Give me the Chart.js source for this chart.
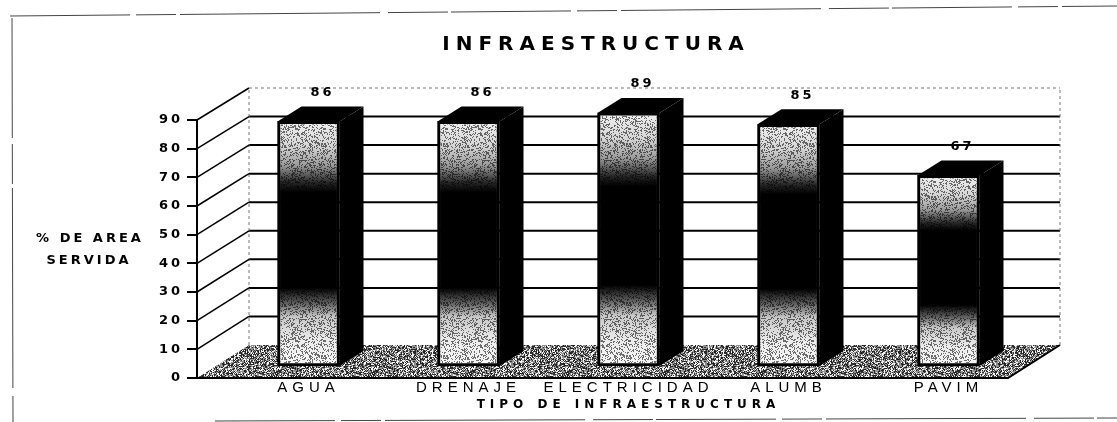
<!DOCTYPE html>
<html><head><meta charset="utf-8">
<script src="https://cdn.jsdelivr.net/npm/chart.js@4.4.1/dist/chart.umd.min.js"></script>
<style>html,body{margin:0;padding:0;background:#fff}#wrap{width:1117px;height:422px;position:relative}canvas{display:block}</style>
</head><body><div id="wrap"><canvas id="c" width="1117" height="422"></canvas></div>
<script>
// ---- data ----
const categories = ['AGUA', 'DRENAJE', 'ELECTRICIDAD', 'ALUMB', 'PAVIM'];
const values = [86, 86, 89, 85, 67];
const valueLabels = ['86', '86', '89', '85', '67'];
const yTicks = [0, 10, 20, 30, 40, 50, 60, 70, 80, 90];
const chartTitle = 'INFRAESTRUCTURA';
const xTitle = 'TIPO DE INFRAESTRUCTURA';
const yTitleLines = ['% DE AREA', 'SERVIDA'];

// ---- style ----
const FONT = '"Liberation Sans", Arial, sans-serif';
const BOLD = '"DejaVu Sans", "Liberation Sans", sans-serif';
const WALL_DX = 52;      // depth of the floor / side wall
const SIDE_DX = 24, SIDE_DY = 15; // bar depth

function hash(i, j, k) {
  const s = Math.sin(i * 127.1 + j * 311.7 + k * 74.7) * 43758.5453;
  return s - Math.floor(s);
}
function makePattern(ctx, w, h, fn) {
  const c = document.createElement('canvas'); c.width = w; c.height = h;
  const x = c.getContext('2d'); const img = x.createImageData(w, h);
  for (let j = 0; j < h; j++) for (let i = 0; i < w; i++) {
    const p = (j * w + i) * 4; const [v, a] = fn(hash(i, j, w));
    img.data[p] = img.data[p + 1] = img.data[p + 2] = v; img.data[p + 3] = a;
  }
  x.putImageData(img, 0, 0);
  return ctx.createPattern(c, 'repeat');
}
let floorPat = null, grainPat = null;

function wrapSpacing(obj, method, spacing) {
  if (!obj || obj['_ls_' + method]) return;
  const orig = obj[method].bind(obj);
  obj[method] = function (...args) {
    const c = this.ctx || obj.ctx; const prev = c.letterSpacing;
    c.letterSpacing = spacing; const r = orig(...args); c.letterSpacing = prev; return r;
  };
  obj['_ls_' + method] = true;
}

const threeD = {
  id: 'threeD',
  beforeDraw(chart) {
    const ctx = chart.ctx;
    if (!floorPat) {
      floorPat = makePattern(ctx, 97, 89, h => [h < 0.4 ? 25 + 80 * h : h < 0.75 ? 110 + 60 * h : 200 + 50 * h, 255]);
      grainPat = makePattern(ctx, 61, 53, h => [0, h < 0.3 ? 140 : 0]);
    }
    wrapSpacing(chart.titleBlock, 'draw', '6px');
    wrapSpacing(chart.scales.x, 'drawTitle', '5px');
    wrapSpacing(chart.scales.x, 'drawLabels', '5px');
    wrapSpacing(chart.scales.yf, 'drawLabels', '3px');
    // frame
    ctx.save();
    ctx.strokeStyle = '#444'; ctx.lineWidth = 1;
    ctx.setLineDash([120, 6, 40, 4, 200, 8, 60, 3]);
    ctx.beginPath(); ctx.moveTo(10, 16); ctx.lineTo(1117, 6); ctx.stroke();
    ctx.beginPath(); ctx.moveTo(12, 18); ctx.lineTo(13, 422); ctx.stroke();
    ctx.beginPath(); ctx.moveTo(215, 421); ctx.lineTo(1117, 418); ctx.stroke();
    ctx.restore();
  },
  beforeDatasetsDraw(chart) {
    const ctx = chart.ctx, a = chart.chartArea;
    const yf = chart.scales.yf, yb = chart.scales.yb;
    const bx0 = a.left + WALL_DX, bx1 = a.right, fx1 = a.right - WALL_DX;
    const f0 = yf.getPixelForValue(0), b0 = yb.getPixelForValue(0);
    ctx.save();
    // floor
    ctx.beginPath();
    ctx.moveTo(a.left, f0); ctx.lineTo(bx0, b0); ctx.lineTo(bx1, b0); ctx.lineTo(fx1, f0); ctx.closePath();
    ctx.fillStyle = floorPat; ctx.fill();
    ctx.strokeStyle = '#000'; ctx.lineWidth = 2;
    ctx.beginPath(); ctx.moveTo(a.left, f0); ctx.lineTo(fx1, f0); ctx.lineTo(bx1, b0); ctx.stroke();
    // back wall grid
    const top = yTicks[yTicks.length - 1];
    yTicks.forEach(v => {
      if (v === 0) return;
      const y = yb.getPixelForValue(v);
      ctx.beginPath();
      if (v === top) { ctx.setLineDash([3, 3]); ctx.lineWidth = 1; ctx.strokeStyle = '#777'; }
      else { ctx.setLineDash([]); ctx.lineWidth = 2; ctx.strokeStyle = '#000'; }
      ctx.moveTo(bx0, y); ctx.lineTo(bx1, y); ctx.stroke();
    });
    // back wall edges
    ctx.setLineDash([3, 3]); ctx.lineWidth = 1; ctx.strokeStyle = '#777';
    ctx.beginPath(); ctx.moveTo(bx0, b0); ctx.lineTo(bx0, yb.getPixelForValue(top)); ctx.stroke();
    ctx.beginPath(); ctx.moveTo(bx1, b0); ctx.lineTo(bx1, yb.getPixelForValue(top)); ctx.stroke();
    // side wall lines
    ctx.setLineDash([]); ctx.strokeStyle = '#000'; ctx.lineWidth = 1.5;
    yTicks.forEach(v => {
      if (v === 0) return;
      ctx.beginPath(); ctx.moveTo(a.left, yf.getPixelForValue(v)); ctx.lineTo(bx0, yb.getPixelForValue(v)); ctx.stroke();
    });
    // front axis
    ctx.lineWidth = 2;
    ctx.beginPath(); ctx.moveTo(a.left, f0); ctx.lineTo(a.left, yf.getPixelForValue(top)); ctx.stroke();
    ctx.restore();
  },
  afterDatasetsDraw(chart) {
    const ctx = chart.ctx;
    const meta = chart.getDatasetMeta(0);
    ctx.save();
    meta.data.forEach((bar, i) => {
      const {x, y, base, width} = bar.getProps(['x', 'y', 'base', 'width'], true);
      const l = x - width / 2, r = x + width / 2;
      // grain on the front face
      ctx.fillStyle = grainPat;
      ctx.fillRect(l + 3, y + 3, width - 6, base - y - 6);
      ctx.fillStyle = '#000';
      ctx.beginPath(); // side
      ctx.moveTo(r, y); ctx.lineTo(r + SIDE_DX, y - SIDE_DY); ctx.lineTo(r + SIDE_DX, base - SIDE_DY); ctx.lineTo(r, base); ctx.closePath(); ctx.fill();
      ctx.beginPath(); // top
      ctx.moveTo(l, y); ctx.lineTo(l + SIDE_DX, y - SIDE_DY); ctx.lineTo(r + SIDE_DX, y - SIDE_DY); ctx.lineTo(r, y); ctx.closePath(); ctx.fill();
      // value label
      ctx.letterSpacing = '3px';
      ctx.font = 'bold 13px ' + BOLD; ctx.textAlign = 'center'; ctx.textBaseline = 'middle';
      ctx.fillText(valueLabels[i], x + SIDE_DX / 2 + 2, y - SIDE_DY - 14);
    });
    ctx.restore();
  },
  afterDraw(chart) {
    const ctx = chart.ctx;
    ctx.save();
    ctx.letterSpacing = '3px';
    ctx.fillStyle = '#000'; ctx.font = 'bold 13px ' + BOLD; ctx.textAlign = 'center'; ctx.textBaseline = 'middle';
    ctx.fillText(yTitleLines[0], 90, 239);
    ctx.fillText(yTitleLines[1], 89, 261);
    ctx.restore();
  }
};

function faceGradient(c) {
  const chart = c.chart;
  if (!chart.chartArea || c.dataIndex === undefined) return '#888';
  const ys = chart.scales.y;
  const top = ys.getPixelForValue(values[c.dataIndex]), base = ys.getPixelForValue(0);
  const g = chart.ctx.createLinearGradient(0, top, 0, base);
  g.addColorStop(0, '#f0f0f0'); g.addColorStop(0.1, '#d6d6d6'); g.addColorStop(0.18, '#9a9a9a');
  g.addColorStop(0.25, '#262626'); g.addColorStop(0.29, '#000'); g.addColorStop(0.68, '#000');
  g.addColorStop(0.74, '#5a5a5a'); g.addColorStop(0.8, '#c8c8c8'); g.addColorStop(0.9, '#ededed'); g.addColorStop(1, '#f7f7f7');
  return g;
}

new Chart(document.getElementById('c'), {
  type: 'bar',
  data: {
    datasets: [{
      data: values.map((v, i) => ({x: i, y: v})), xAxisID: 'x', yAxisID: 'y',
      backgroundColor: faceGradient, borderColor: '#000', borderWidth: 3, borderSkipped: false,
      barThickness: 62
    }]
  },
  options: {
    responsive: false, maintainAspectRatio: false, devicePixelRatio: 1, animation: false,
    layout: {padding: {left: 132, right: 57, top: 0, bottom: 0}},
    plugins: {
      legend: {display: false}, tooltip: {enabled: false},
      title: {display: true, text: chartTitle, color: '#000', font: {family: BOLD, weight: 'bold', size: 20}, padding: {top: 33, bottom: 31}}
    },
    scales: {
      x: {
        type: 'linear', position: 'bottom', min: -0.697, max: 4.697, offset: false,
        afterBuildTicks: s => { s.ticks = categories.map((c, i) => ({value: i})); },
        grid: {display: false, drawTicks: false}, border: {display: false},
        ticks: {color: '#000', font: {family: FONT, size: 15}, padding: 1, maxRotation: 0, autoSkip: false, z: 1,
                callback: v => categories[v]},
        title: {display: true, text: xTitle, color: '#000', font: {family: BOLD, weight: 'bold', size: 12}, padding: {top: 0, bottom: 10}},
        afterFit: s => { s.height = 44; }
      },
      yf: {
        type: 'linear', axis: 'y', position: 'left', min: 0, max: 101.16,
        afterBuildTicks: s => { s.ticks = yTicks.map(v => ({value: v})); },
        ticks: {color: '#000', font: {family: BOLD, weight: 'bold', size: 13}, padding: 4, z: 1},
        grid: {drawOnChartArea: false, drawTicks: true, tickLength: 10, color: '#000', lineWidth: 2},
        border: {display: false},
        afterFit: s => { s.width = 65; }
      },
      y: {type: 'linear', axis: 'y', display: false, min: -4.22, max: 97.75},
      yb: {type: 'linear', axis: 'y', display: false, min: -11.55, max: 90}
    }
  },
  plugins: [threeD]
});
</script>
</body></html>
